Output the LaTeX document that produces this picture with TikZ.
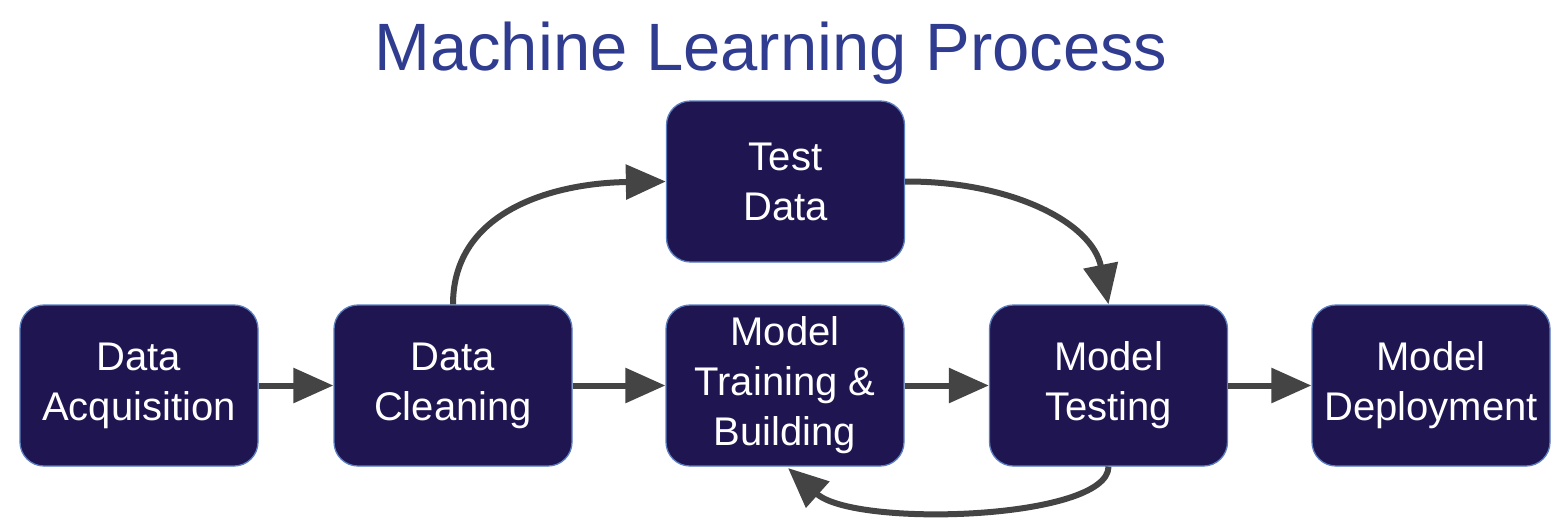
\documentclass[tikz,border=0pt]{standalone}
\usepackage{fontspec}
\setmainfont{Liberation Sans}
\usetikzlibrary{arrows.meta}
\definecolor{boxfill}{HTML}{1F1551}
\definecolor{boxline}{HTML}{5B7EC0}
\definecolor{arrowc}{HTML}{444444}
\definecolor{titlec}{HTML}{2F3C8F}
\tikzset{
  stage/.style={draw=boxline, line width=1.3pt, fill=boxfill, rounded corners=24pt,
    minimum width=238pt, minimum height=161pt, inner sep=0pt, text=white,
    align=center, font=\fontsize{40}{50}\selectfont},
  flow/.style={draw=arrowc, line width=6pt, -{Triangle[length=40pt,width=34pt]}},
}
\begin{document}
\begin{tikzpicture}[x=1pt,y=-1pt]
\useasboundingbox (0,0) rectangle (1565,528);
\fill[white] (0,0) rectangle (1565,528);
\node[text=titlec, font=\fontsize{67}{70}\selectfont, anchor=base] (title) at (771,70) {Machine Learning Process};
\node[stage] (da) at (139,385.5) {Data\\Acquisition};
\node[stage] (dc) at (453,385.5) {Data\\Cleaning};
\node[stage] (mtb) at (785,385.5) {Model\\Training \&\\Building};
\node[stage] (mt) at (1108.5,385.5) {Model\\Testing};
\node[stage] (md) at (1431,385.5) {Model\\Deployment};
\node[stage] (td) at (785.5,181.5) {Test\\Data};
\draw[flow] (da.east) -- (dc.west);
\draw[flow] (dc.east) -- (mtb.west);
\draw[flow] (mtb.east) -- (mt.west);
\draw[flow] (mt.east) -- (md.west);
\draw[flow] (dc.north) .. controls (453,210) and (555,183) .. (td.west);
\draw[flow] (td.east) .. controls (1010,181) and (1092,222) .. (mt.north);
\coordinate (mtbtip) at (788,468);
\draw[flow] (mt.south) .. controls (1108,520) and (855,528) .. (mtbtip);
\end{tikzpicture}
\end{document}
